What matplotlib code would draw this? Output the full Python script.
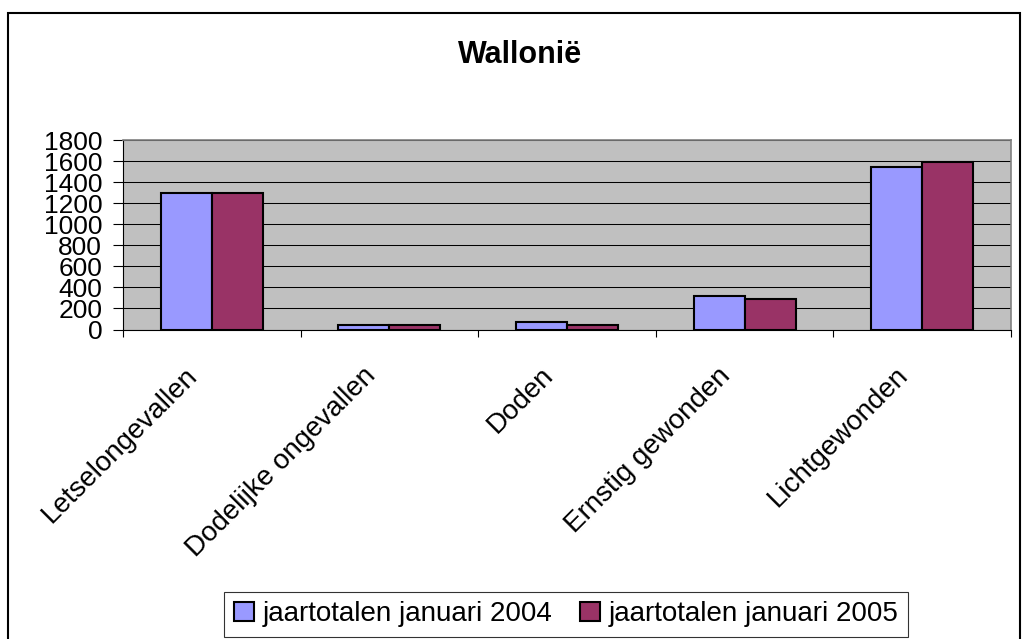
import matplotlib.pyplot as plt
import matplotlib.transforms as mtransforms
from matplotlib.patches import Rectangle
import numpy as np

plt.rcParams['font.family'] = ['Liberation Sans', 'DejaVu Sans']

categories = ['Letselongevallen', 'Dodelijke ongevallen', 'Doden',
              'Ernstig gewonden', 'Lichtgewonden']
jan2004 = [1300, 42, 68, 317, 1548]
jan2005 = [1300, 45, 45, 292, 1595]
series_names = ['jaartotalen januari 2004', 'jaartotalen januari 2005']
yticks = [0, 200, 400, 600, 800, 1000, 1200, 1400, 1600, 1800]

fig = plt.figure(figsize=(10.22, 6.39), dpi=100)
ax = fig.add_axes([123 / 1022, 1 - 329.5 / 639, (1011 - 123) / 1022, 189.5 / 639])
ax.set_facecolor('#C0C0C0')

x = np.arange(len(categories))
w = 0.287
ax.bar(x - w / 2, jan2004, w, color='#9999FF', edgecolor='black', linewidth=1.5,
       label=series_names[0], zorder=3)
ax.bar(x + w / 2, jan2005, w, color='#993366', edgecolor='black', linewidth=1.5,
       label=series_names[1], zorder=3)

ax.set_xlim(-0.5, len(categories) - 0.5)
ax.set_ylim(0, 1800)
ax.set_yticks(yticks)
ax.set_yticklabels([str(v) for v in yticks], fontsize=19)
ax.tick_params(axis='y', direction='out', length=7, width=0.8, pad=8, color='black')
ax.set_xticks(np.arange(len(categories) + 1) - 0.5)
ax.set_xticklabels([])
ax.tick_params(axis='x', direction='out', length=5, width=0.8, color='black')
ax.yaxis.grid(True, color='black', linewidth=0.75, zorder=1)
ax.set_axisbelow(True)

for side in ['top', 'right']:
    ax.spines[side].set_color('#808080')
    ax.spines[side].set_linewidth(1.2)
for side in ['left', 'bottom']:
    ax.spines[side].set_color('black')
    ax.spines[side].set_linewidth(0.8)

# rotated category labels
base = mtransforms.blended_transform_factory(ax.transData, ax.transAxes)
offset = mtransforms.ScaledTranslation(-27 / 100, -33 / 100, fig.dpi_scale_trans)
for i, cat in enumerate(categories):
    ax.text(i, 0, cat, transform=base + offset, rotation=45, rotation_mode='anchor',
            ha='right', va='top', fontsize=20)

fig.text(520 / 1022, 1 - 55 / 639, 'Wallonië', ha='center', va='center',
         fontsize=22, fontweight='bold')

leg = fig.legend(loc='lower center', bbox_to_anchor=(566 / 1022, 2 / 639),
                 bbox_transform=fig.transFigure, ncol=2, fontsize=20,
                 frameon=True, fancybox=False, borderaxespad=0,
                 handlelength=0.72, handleheight=0.72, handletextpad=0.3,
                 columnspacing=1.0, borderpad=0.35)
leg.get_frame().set_edgecolor('black')
leg.get_frame().set_linewidth(0.8)

# chart area border
fig.patches.append(Rectangle((8 / 1022, -0.05), (1020 - 8) / 1022, 1.05 - 13 / 639,
                             transform=fig.transFigure, fill=False,
                             edgecolor='black', linewidth=1.5))

fig.savefig('out.png', dpi=100)
